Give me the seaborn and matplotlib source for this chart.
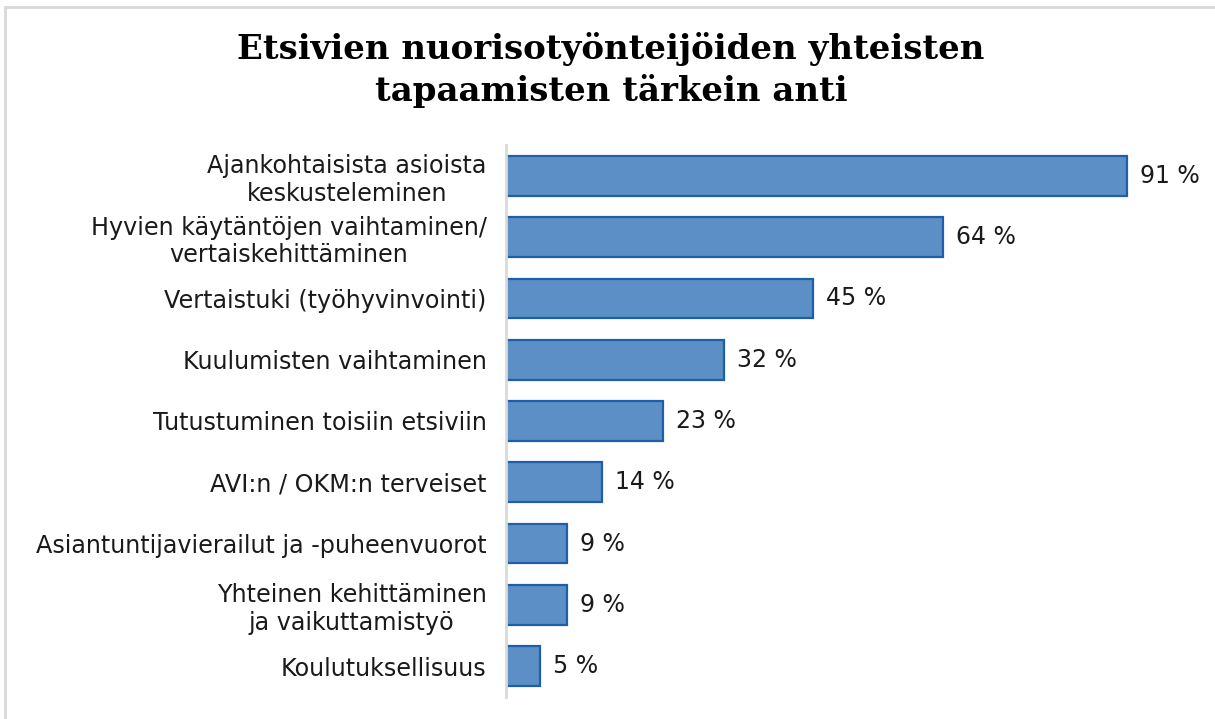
import pandas as pd
import matplotlib.pyplot as plt
import seaborn as sns
from matplotlib.lines import Line2D

# data
categories = ["Ajankohtaisista asioista\nkeskusteleminen",
              "Hyvien käytäntöjen vaihtaminen/\nvertaiskehittäminen",
              "Vertaistuki (työhyvinvointi)",
              "Kuulumisten vaihtaminen",
              "Tutustuminen toisiin etsiviin",
              "AVI:n / OKM:n terveiset",
              "Asiantuntijavierailut ja -puheenvuorot",
              "Yhteinen kehittäminen\nja vaikuttamistyö",
              "Koulutuksellisuus"]
values = [91, 64, 45, 32, 23, 14, 9, 9, 5]

df = pd.DataFrame({"Kategoria": categories, "Osuus": values})

sns.set_theme(style="white")
plt.rcParams['font.family'] = ['DejaVu Sans']

fig = plt.figure(figsize=(12.15, 7.19), dpi=100)
ax = fig.add_axes([0.4165, 0.031, 0.978 - 0.4165, 0.767])

sns.barplot(data=df, x="Osuus", y="Kategoria", orient="h", ax=ax,
            color="#5B8FC6", edgecolor="#1F5EA8", linewidth=1.6,
            width=0.65, saturation=1)

ax.set_xlim(0, 100)
ax.set_xlabel("")
ax.set_ylabel("")
ax.set_xticks([])
for s in ["top", "right", "bottom"]:
    ax.spines[s].set_visible(False)
ax.spines["left"].set_color("#D9D9D9")
ax.spines["left"].set_linewidth(2)
ax.tick_params(axis="y", length=0, pad=14)
for lbl in ax.get_yticklabels():
    lbl.set_fontsize(17.2)
    lbl.set_color("#1A1A1A")
    lbl.set_multialignment("center")

for i, v in enumerate(values):
    ax.text(v + 1.9, i, f"{v} %", va="center", ha="left", fontsize=17, color="#1A1A1A")

fig.text(0.503, 0.903, "Etsivien nuorisotyönteijöiden yhteisten\ntapaamisten tärkein anti",
         ha="center", va="center", fontsize=24.5, fontweight="bold",
         family=["DejaVu Serif"], linespacing=1.28, color="#000000")

# light frame (only top and left edge visible in the crop)
fig.lines.append(Line2D([0.0045, 1.0], [0.9905, 0.9905], transform=fig.transFigure,
                        color="#D9D9D9", linewidth=2))
fig.lines.append(Line2D([0.0045, 0.0045], [0.0, 0.9905], transform=fig.transFigure,
                        color="#D9D9D9", linewidth=2))

plt.savefig("out.png", dpi=100)
